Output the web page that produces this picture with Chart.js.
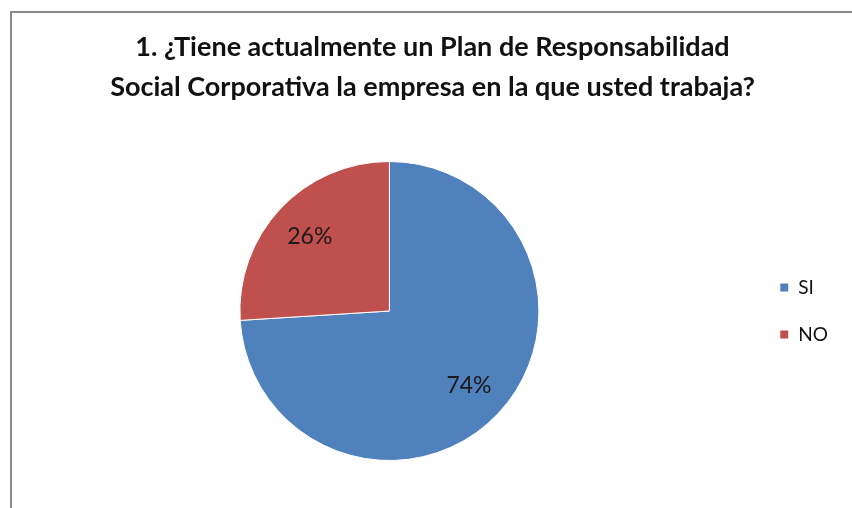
<!DOCTYPE html>
<html>
<head>
<meta charset="utf-8">
<script src="https://cdn.jsdelivr.net/npm/chart.js@4"></script>
<style>
  html, body { margin: 0; padding: 0; background: #fff; overflow: hidden; }
  #wrap { position: relative; width: 852px; height: 508px; }
  #frame { position: absolute; left: 10px; top: 11px; width: 900px; height: 600px;
           border-left: 2px solid #8a8a8a; border-top: 2px solid #8a8a8a; box-sizing: border-box; }
  canvas { position: absolute; left: 0; top: 0; }
</style>
</head>
<body>
<div id="wrap">
  <div id="frame"></div>
  <canvas id="c" width="852" height="508"></canvas>
</div>
<script>
// Survey question 1: share of respondents whose company has a CSR plan
const titleLines = [
  '1. ¿Tiene actualmente un Plan de Responsabilidad',
  'Social Corporativa la empresa en la que usted trabaja?'
];
const categories = ['SI', 'NO'];
const percentages = [74, 26];
const sliceColors = ['#4F81BD', '#C0504D'];

// Percentage text drawn inside each slice
const sliceLabels = {
  id: 'sliceLabels',
  afterDatasetsDraw(chart) {
    const { ctx } = chart;
    const meta = chart.getDatasetMeta(0);
    const values = chart.data.datasets[0].data;
    ctx.save();
    ctx.font = '23px Lato, "Open Sans", sans-serif';
    ctx.fillStyle = '#1a1a1a';
    ctx.textAlign = 'center';
    ctx.textBaseline = 'middle';
    meta.data.forEach((arc, i) => {
      const { x, y, startAngle, endAngle, outerRadius } = arc.getProps(
        ['x', 'y', 'startAngle', 'endAngle', 'outerRadius'], true);
      const mid = (startAngle + endAngle) / 2;
      const r = outerRadius * 0.73;
      ctx.fillText(values[i] + '%', x + Math.cos(mid) * r, y + Math.sin(mid) * r);
    });
    ctx.restore();
  }
};

new Chart(document.getElementById('c'), {
  type: 'pie',
  data: {
    labels: categories,
    datasets: [{
      data: percentages,
      backgroundColor: sliceColors,
      borderColor: '#ffffff',
      borderWidth: 1
    }]
  },
  options: {
    responsive: false,
    animation: false,
    layout: { padding: { top: 27, bottom: 47, left: 27, right: 14 } },
    plugins: {
      tooltip: { enabled: false },
      title: {
        display: true,
        text: titleLines,
        color: '#111',
        font: { family: 'Lato, "Open Sans", sans-serif', size: 27, weight: 'bold', lineHeight: '40px' },
        padding: { top: 0, bottom: 54 }
      },
      legend: {
        position: 'right',
        fullSize: false,
        labels: {
          boxWidth: 9,
          boxHeight: 9,
          padding: 28,
          color: '#111',
          font: { family: 'Lato, "Open Sans", sans-serif', size: 19 }
        }
      }
    }
  },
  plugins: [sliceLabels]
});
</script>
</body>
</html>
